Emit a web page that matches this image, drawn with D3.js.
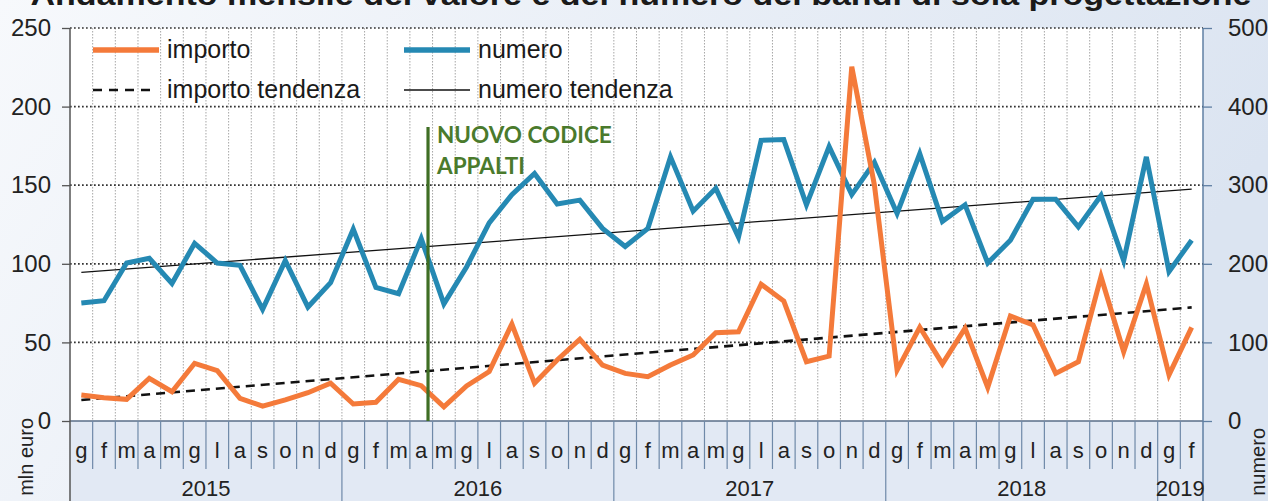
<!DOCTYPE html>
<html><head><meta charset="utf-8">
<script src="https://cdn.jsdelivr.net/npm/d3@7"></script>
<style>body{margin:0;background:#fff}svg{display:block}</style>
</head><body>
<svg id="c" width="1268" height="501"></svg>
<script>
// ---- data ----
const title = "Andamento mensile del valore e del numero dei bandi di sola progettazione";
const years = ["2015","2016","2017","2018","2019"];
const monthsPerYear = [12,12,12,12,2];
const monthNames = ["g","f","m","a","m","g","l","a","s","o","n","d"];
const importo = [16.5,14.8,13.8,27.2,18.6,36.7,32,14.4,9.5,13.4,18,24,
                 10.8,11.9,26.5,22.5,9,22.3,31.4,61.7,24,38.8,52,35.6,
                 30.3,28.2,35.6,42,56.2,56.8,87,76.3,37.7,41.3,225.4,150,
                 32.4,59.6,36.3,59,21.4,66.8,61.1,30.3,37.7,91.8,44.1,87.2,
                 29.3,59.6];
const numero = [150,153,201,207,175,226,201,198,142,204,145,176,
                244,170,162,232,149,196,252,288,315,276,281,245,
                222,245,336,267,296,234,357,358,275,349,288,329,
                264,340,254,275,201,230,282,282,247,287,204,336,
                190,230];
const importoTrend = [13.4, 72.3];   // first / last month
const numeroTrend = [189, 295];
const leftTicks = [0,50,100,150,200,250];
const rightTicks = [0,100,200,300,400,500];
const eventLabel = ["NUOVO CODICE","APPALTI"];
const eventMonth = 15.8; // months since Jan 2015 (april 2016)

// ---- build ----
const cats = [];
years.forEach((y,yi)=>{ for(let m=0;m<monthsPerYear[yi];m++) cats.push({year:y, month:monthNames[m], first:m===0}); });
const N = cats.length;

const svg = d3.select("#c");
const L=70, R=1203, T=28, B=421, H=501;
const x = d3.scaleBand().domain(d3.range(N)).range([L,R]);
const bw = x.bandwidth();
const cx = i => x(i)+bw/2;
const yL = d3.scaleLinear().domain([0,250]).range([B,T]);
const yR = d3.scaleLinear().domain([0,500]).range([B,T]);

const defs = svg.append("defs");
const g1 = defs.append("linearGradient").attr("id","bg").attr("x1","0").attr("x2","1").attr("y1","0").attr("y2","0.3");
g1.append("stop").attr("offset","0").attr("stop-color","#f7f9fc");
g1.append("stop").attr("offset","1").attr("stop-color","#dbe4f1");
svg.append("rect").attr("width",1268).attr("height",501).attr("fill","url(#bg)");
svg.append("rect").attr("x",L).attr("y",B).attr("width",R-L).attr("height",H-B).attr("fill","#e2e9f4");
svg.append("rect").attr("x",L).attr("y",T).attr("width",R-L).attr("height",B-T).attr("fill","#ffffff");

// title (cropped at top, as in the source)
svg.append("text").attr("x",641).attr("y",5).attr("text-anchor","middle")
  .attr("font-family","Liberation Sans, Arial, sans-serif").attr("font-weight","bold")
  .attr("font-size",29).attr("textLength",1221).attr("lengthAdjust","spacingAndGlyphs")
  .attr("fill","#1a1a1a").text(title);

// vertical grid
svg.append("g").selectAll("line").data(d3.range(1,N)).join("line")
  .attr("x1",i=>x(i)).attr("x2",i=>x(i)).attr("y1",T).attr("y2",B)
  .attr("stroke","#9c9c9c").attr("stroke-width",0.9).attr("stroke-dasharray","1.5,1.5");

// horizontal grid
svg.append("g").selectAll("line").data(leftTicks.filter(v=>v>0)).join("line")
  .attr("x1",L).attr("x2",R).attr("y1",d=>yL(d)).attr("y2",d=>yL(d))
  .attr("stroke","#333").attr("stroke-width",1.7).attr("stroke-dasharray","1.7,2.3");

// axes
const fontF = "Liberation Sans, Arial, sans-serif";
const ax = svg.append("g").attr("transform",`translate(${L},0)`)
  .call(d3.axisLeft(yL).tickValues(leftTicks).tickSize(8).tickPadding(11));
ax.select(".domain").remove();
ax.selectAll("line").attr("stroke","#555").attr("stroke-width",1.3);
ax.selectAll("text").attr("font-family",fontF).attr("font-size",24).attr("fill","#222");
const ar = svg.append("g").attr("transform",`translate(${R},0)`)
  .call(d3.axisRight(yR).tickValues(rightTicks).tickSize(9).tickPadding(16));
ar.select(".domain").remove();
ar.selectAll("line").attr("stroke","#5f7fa3").attr("stroke-width",1.3);
ar.selectAll("text").attr("font-family",fontF).attr("font-size",24).attr("fill","#222");

// zero line and axis lines
svg.append("line").attr("x1",L).attr("x2",R).attr("y1",B).attr("y2",B).attr("stroke","#5a6e88").attr("stroke-width",1.4);
svg.append("line").attr("x1",L).attr("x2",L).attr("y1",T).attr("y2",H).attr("stroke","#555").attr("stroke-width",1.5);
svg.append("line").attr("x1",R).attr("x2",R).attr("y1",T).attr("y2",H).attr("stroke","#5f7fa3").attr("stroke-width",1.5);

// month separators
svg.append("g").selectAll("line").data(d3.range(1,N)).join("line")
  .attr("x1",i=>x(i)).attr("x2",i=>x(i)).attr("y1",B).attr("y2",i=>cats[i].first?H:469)
  .attr("stroke","#6f89a8").attr("stroke-width",1.2);
svg.append("g").selectAll("text").data(cats).join("text")
  .attr("x",(d,i)=>cx(i)).attr("y",458).attr("text-anchor","middle")
  .attr("font-family",fontF).attr("font-size",22).attr("fill","#222").text(d=>d.month);
// years
let start=0;
years.forEach((y,yi)=>{
  const s=start, e=start+monthsPerYear[yi]-1;
  svg.append("text").attr("x",(x(s)+x(e)+bw)/2).attr("y",496).attr("text-anchor","middle")
    .attr("font-family",fontF).attr("font-size",22).attr("fill","#222").text(y);
  start+=monthsPerYear[yi];
});

// axis titles
svg.append("text").attr("transform","translate(33,418) rotate(-90)").attr("text-anchor","end")
  .attr("font-family",fontF).attr("font-size",20).attr("fill","#222").text("mln euro");
svg.append("text").attr("transform","translate(1265,428) rotate(-90)").attr("text-anchor","end")
  .attr("font-family",fontF).attr("font-size",20).attr("fill","#222").text("numero");

// trend lines
svg.append("line").attr("x1",cx(0)).attr("x2",cx(N-1)).attr("y1",yR(numeroTrend[0])).attr("y2",yR(numeroTrend[1]))
  .attr("stroke","#111").attr("stroke-width",1.3);
svg.append("line").attr("x1",cx(0)).attr("x2",cx(N-1)).attr("y1",yL(importoTrend[0])).attr("y2",yL(importoTrend[1]))
  .attr("stroke","#111").attr("stroke-width",2.6).attr("stroke-dasharray","9,6");

// data lines
const colB="#2589b3", colO="#f47a3a";
svg.append("path").datum(numero).attr("fill","none").attr("stroke",colB).attr("stroke-width",5)
  .attr("d",d3.line().x((d,i)=>cx(i)).y(d=>yR(d)));
svg.append("path").datum(importo).attr("fill","none").attr("stroke",colO).attr("stroke-width",5)
  .attr("d",d3.line().x((d,i)=>cx(i)).y(d=>yL(d)));

// event marker
const ex = x(0)+eventMonth*bw;
svg.append("line").attr("x1",ex).attr("x2",ex).attr("y1",127).attr("y2",B).attr("stroke","#3f6e24").attr("stroke-width",3.2);
svg.append("g").selectAll("text").data(eventLabel).join("text")
  .attr("x",ex+9).attr("y",(d,i)=>143+i*31).attr("font-family","Lato, Open Sans, sans-serif").attr("font-size",22.5)
  .attr("font-weight","bold").attr("fill","#4a7a2c").text(d=>d);

// legend
const leg = [
  {t:"importo", x:93, y:50, c:colO, w:5.5, dash:null},
  {t:"numero", x:404, y:50, c:colB, w:5.5, dash:null},
  {t:"importo tendenza", x:93, y:90, c:"#111", w:2.6, dash:"9,7"},
  {t:"numero tendenza", x:404, y:90, c:"#111", w:1.3, dash:null}
];
const lg = svg.append("g").selectAll("g").data(leg).join("g");
lg.append("line").attr("x1",d=>d.x).attr("x2",d=>d.x+(d.dash?62:66)).attr("y1",d=>d.y).attr("y2",d=>d.y)
  .attr("stroke",d=>d.c).attr("stroke-width",d=>d.w).attr("stroke-dasharray",d=>d.dash);
lg.append("text").attr("x",d=>d.x+74).attr("y",d=>d.y+8).attr("font-family",fontF).attr("font-size",25)
  .attr("fill","#1a1a1a").text(d=>d.t);
</script>
</body></html>
